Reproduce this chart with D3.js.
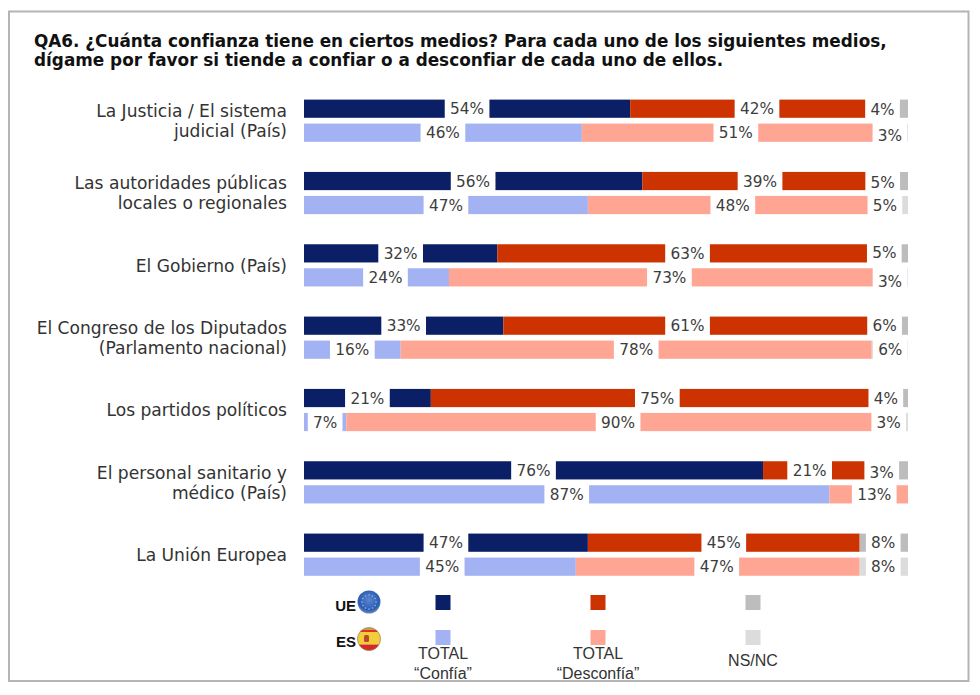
<!DOCTYPE html>
<html lang="es">
<head>
<meta charset="utf-8">
<script src="https://cdn.jsdelivr.net/npm/d3@7"></script>
<style>
html,body{margin:0;padding:0;background:#fff}
svg{display:block}
</style>
</head>
<body>
<svg id="chart" width="980" height="695"></svg>
<script>
// ---- data ----
const titleLines = [
  "QA6. ¿Cuánta confianza tiene en ciertos medios? Para cada uno de los siguientes medios,",
  "dígame por favor si tiende a confiar o a desconfiar de cada uno de ellos."
];
const categories = [
  "La Justicia / El sistema\njudicial (País)",
  "Las autoridades públicas\nlocales o regionales",
  "El Gobierno (País)",
  "El Congreso de los Diputados\n(Parlamento nacional)",
  "Los partidos políticos",
  "El personal sanitario y\nmédico (País)",
  "La Unión Europea"
];
const ueConfia     = [54, 56, 32, 33, 21, 76, 47];
const ueDesconfia  = [42, 39, 63, 61, 75, 21, 45];
const ueNsnc       = [ 4,  5,  5,  6,  4,  3,  8];
const esConfia     = [46, 47, 24, 16,  7, 87, 45];
const esDesconfia  = [51, 48, 73, 78, 90, 13, 47];
const esNsnc       = [ 3,  5,  3,  6,  3,  0,  8];
const groups = ["UE", "ES"];
const seriesNames = ["confia", "desconfia", "nsnc"];
const legendLabels = [["TOTAL", "“Confía”"], ["TOTAL", "“Desconfía”"], ["NS/NC"]];

// ---- styling / layout tweaks ----
const colors = {
  UE: { confia: "#0a1f66", desconfia: "#cc3300", nsnc: "#bdbdbd" },
  ES: { confia: "#a3b2f2", desconfia: "#ffa594", nsnc: "#dcdcdc" }
};
// label placement tweaks (px), the source does not always centre labels on their segment
const nudgeX = {
  UE: { confia: [0,0,0,0,0,0,0], desconfia: [0,0,0,0,0,-16.8,0], nsnc: [-13.4,-10.2,-8.6,-5.3,-10.1,-17.2,-0.6] },
  ES: { confia: [0,0,9,0,0,0,2.3], desconfia: [0,0,0,0,0,5.5,-1], nsnc: [-9,-8,-8.9,0.4,-10.2,0,-0.6] }
};
const nudgeY = {
  UE: { confia: [0,0,0,0,0,0,0], desconfia: [0,0,0,0,0,0,0], nsnc: [1,1,-1,0,0,2,0] },
  ES: { confia: [0,0,0,0,0,0,0], desconfia: [0,0,0,0,0,0,0], nsnc: [3,0,4,0,0,0,0] }
};

const FONT = "'DejaVu Sans', Verdana, sans-serif";
const svg = d3.select("#chart");
const defs = svg.append("defs");

// frame
svg.append("rect").attr("x", 9).attr("y", 11.5).attr("width", 959.5).attr("height", 669.5)
  .attr("fill", "#fff").attr("stroke", "#b4b4b4").attr("stroke-width", 2);

// title
svg.append("g").selectAll("text").data(titleLines).join("text")
  .attr("x", 34).attr("y", (d, i) => 46.5 + i * 19.7)
  .attr("font-family", FONT).attr("font-weight", 700).attr("font-size", 16.85)
  .attr("fill", "#111").text(d => d);

// scales
const x = d3.scaleLinear().domain([0, 100]).range([304, 908]);
const rowStep = 72.33;
const yRow = d3.scaleBand().domain(categories).range([99.6, 99.6 + rowStep * categories.length]);
const yGroup = d3.scaleBand().domain(groups).range([0, 48]);
const barH = 18.2;

// rows
const values = { UE: { confia: ueConfia, desconfia: ueDesconfia, nsnc: ueNsnc },
                 ES: { confia: esConfia, desconfia: esDesconfia, nsnc: esNsnc } };
const stack = d3.stack().keys(seriesNames);
const barsG = svg.append("g");
const labelsG = svg.append("g");

groups.forEach(g => {
  const table = categories.map((c, i) => ({
    category: c, index: i,
    confia: values[g].confia[i], desconfia: values[g].desconfia[i], nsnc: values[g].nsnc[i]
  }));
  stack(table).forEach(layer => {
    const key = layer.key;
    const y0 = d => yRow(d.data.category) + yGroup(g);
    barsG.append("g").attr("fill", colors[g][key]).selectAll("rect")
      .data(layer.filter(d => d[1] > d[0])).join("rect")
      .attr("x", d => x(d[0])).attr("width", d => x(d[1]) - x(d[0]))
      .attr("y", y0).attr("height", barH);

    const cx = d => x((d[0] + d[1]) / 2) + nudgeX[g][key][d.data.index];
    const shown = layer.filter(d => d[1] > d[0]);
    const boxW = d => (d[1] - d[0] >= 9.5 ? 44.7 : 34.7);
    labelsG.append("g").attr("fill", "#fff").selectAll("rect")
      .data(shown).join("rect")
      .attr("x", d => Math.min(cx(d) - boxW(d) / 2, x(100) - boxW(d)))
      .attr("width", boxW)
      .attr("y", d => y0(d) - 1).attr("height", barH + 2);
    labelsG.append("g").selectAll("text")
      .data(shown).join("text")
      .attr("x", cx)
      .attr("y", d => y0(d) + barH / 2 + 5.7 + nudgeY[g][key][d.data.index])
      .attr("text-anchor", "middle")
      .attr("font-family", FONT).attr("font-size", 15.3).attr("fill", "#3d3d3d")
      .text(d => (d[1] - d[0]) + "%");
  });
});

// category labels
const catG = svg.append("g").selectAll("text").data(categories).join("text")
  .attr("text-anchor", "end")
  .attr("font-family", FONT).attr("font-size", 17.1).attr("fill", "#333");
catG.each(function (c) {
  const lines = c.split("\n");
  const mid = yRow(c) + 21;
  d3.select(this).selectAll("tspan").data(lines).join("tspan")
    .attr("x", 287)
    .attr("y", (d, i) => mid + 6.5 + (i - (lines.length - 1) / 2) * 20)
    .text(d => d);
});

// legend
const legendX = d3.scalePoint().domain(seriesNames).range([443, 753]);
const legendY = d3.scaleOrdinal().domain(groups).range([602.5, 637.5]);
groups.forEach(g => {
  svg.append("g").selectAll("rect").data(seriesNames).join("rect")
    .attr("x", d => legendX(d) - 7.5).attr("y", legendY(g) - 7.5)
    .attr("width", 15).attr("height", 15)
    .attr("fill", d => colors[g][d]);
});
const legendFont = "'Liberation Sans', Arial, sans-serif";
const legT = svg.append("g").selectAll("g").data(seriesNames).join("g");
legT.each(function (s, i) {
  const lines = legendLabels[i];
  d3.select(this).selectAll("text").data(lines).join("text")
    .attr("x", legendX(s)).attr("y", (d, j) => (lines.length === 1 ? 665.5 : 658.5 + j * 20))
    .attr("text-anchor", "middle")
    .attr("font-family", legendFont).attr("font-size", 16).attr("fill", "#333")
    .text(d => d);
});

// group marks in the legend: label + round emblem
const iconX = 369;
svg.append("g").selectAll("text").data(groups).join("text")
  .attr("x", 356).attr("y", d => (d === "UE" ? 611 : 647))
  .attr("text-anchor", "end")
  .attr("font-family", "'Liberation Sans', sans-serif").attr("font-weight", 700).attr("font-size", 15)
  .attr("fill", "#111").text(d => d);

const euGrad = defs.append("radialGradient").attr("id", "eu").attr("cx", "50%").attr("cy", "40%").attr("r", "60%");
euGrad.append("stop").attr("offset", "0%").attr("stop-color", "#5b86cf");
euGrad.append("stop").attr("offset", "75%").attr("stop-color", "#2a5cb3");
euGrad.append("stop").attr("offset", "100%").attr("stop-color", "#6f8cbc");
svg.append("circle").attr("cx", iconX).attr("cy", 602).attr("r", 11.5).attr("fill", "url(#eu)");
svg.append("g").selectAll("circle").data(d3.range(12)).join("circle")
  .attr("cx", d => iconX + 7 * Math.cos(d * Math.PI / 6))
  .attr("cy", d => 602 + 7 * Math.sin(d * Math.PI / 6))
  .attr("r", 0.8).attr("fill", "#9db7e4");

defs.append("clipPath").attr("id", "flagClip").append("circle")
  .attr("cx", iconX).attr("cy", 639).attr("r", 11.5);
const flag = svg.append("g").attr("clip-path", "url(#flagClip)");
const flagBands = [["#c9a24a", 627, 3.5], ["#d8342a", 630, 2], ["#f2cc3a", 632, 12.5], ["#d42a20", 644.5, 7]];
flag.selectAll("rect").data(flagBands).join("rect")
  .attr("x", iconX - 12).attr("width", 24)
  .attr("y", d => d[1]).attr("height", d => d[2]).attr("fill", d => d[0]);
svg.append("rect").attr("x", iconX - 5).attr("y", 635).attr("width", 5).attr("height", 7)
  .attr("rx", 1.5).attr("fill", "#b5492a");
svg.append("circle").attr("cx", iconX).attr("cy", 639).attr("r", 11.5)
  .attr("fill", "none").attr("stroke", "#a08a5a").attr("stroke-width", 0.8);
</script>
</body>
</html>
